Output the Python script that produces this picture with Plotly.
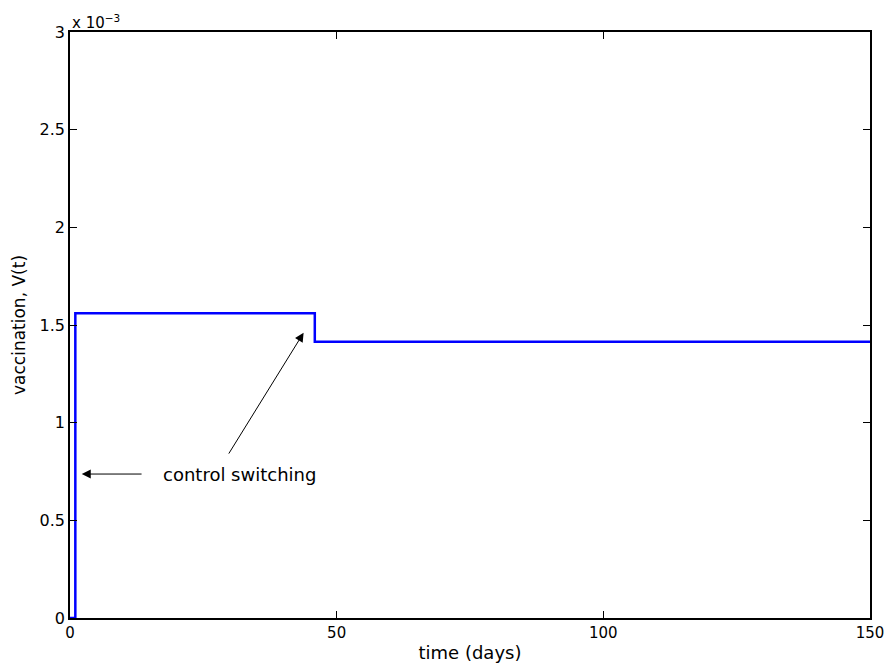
import plotly.graph_objects as go

# Piecewise-constant vaccination control V(t)
time_days = [0, 1.0, 1.0, 45.9, 45.9, 150]
vaccination = [0, 0, 1.56e-3, 1.56e-3, 1.414e-3, 1.414e-3]

y_tick_vals = [0, 0.5e-3, 1.0e-3, 1.5e-3, 2.0e-3, 2.5e-3, 3.0e-3]
y_tick_text = ["0", "0.5", "1", "1.5", "2", "2.5", "3"]
x_tick_vals = [0, 50, 100, 150]

FONT = "DejaVu Sans, Liberation Sans, Arial, sans-serif"

fig = go.Figure()
fig.add_trace(go.Scatter(
    x=time_days, y=vaccination, mode="lines",
    line=dict(color="#0000ff", width=2.5), showlegend=False,
))

axis_common = dict(
    showgrid=False, zeroline=False, showline=True, linecolor="black",
    linewidth=1.5, mirror="ticks", ticks="inside", ticklen=7,
    tickcolor="black", tickwidth=1.2, automargin=False,
)

fig.update_layout(
    width=885, height=669,
    margin=dict(l=70, r=15, t=32, b=51),
    paper_bgcolor="white", plot_bgcolor="white",
    font=dict(family=FONT, color="black"),
    xaxis=dict(range=[0, 150], tickvals=x_tick_vals,
               tickfont=dict(family=FONT, size=15, color="black"),
               title=dict(text="time (days)", font=dict(size=18), standoff=6),
               **axis_common),
    yaxis=dict(range=[0, 3e-3], tickvals=y_tick_vals, ticktext=y_tick_text,
               tickfont=dict(family=FONT, size=16, color="black"),
               title=dict(text="vaccination, V(t)", font=dict(size=17), standoff=10),
               **axis_common),
)

# Exponent label above the y-axis
fig.add_annotation(
    xref="paper", yref="paper", x=0.0, y=1.0, xanchor="left", yanchor="bottom",
    text="x 10<sup>\u22123</sup>", showarrow=False,
    font=dict(family=FONT, size=15), xshift=0, yshift=-2,
)

# Text label and arrows pointing to the switching times
fig.add_annotation(
    x=31.7, y=0.737e-3, text="control switching", showarrow=False,
    font=dict(family=FONT, size=18),
)
fig.add_annotation(
    x=2.2, y=0.737e-3, ax=13.7, ay=0.737e-3, axref="x", ayref="y",
    text="", showarrow=True, arrowhead=2, arrowsize=1.8, arrowwidth=1,
    arrowcolor="black",
)
fig.add_annotation(
    x=43.8, y=1.46e-3, ax=29.6, ay=0.834e-3, axref="x", ayref="y",
    text="", showarrow=True, arrowhead=2, arrowsize=1.8, arrowwidth=1,
    arrowcolor="black",
)

fig.write_html("out.html")
